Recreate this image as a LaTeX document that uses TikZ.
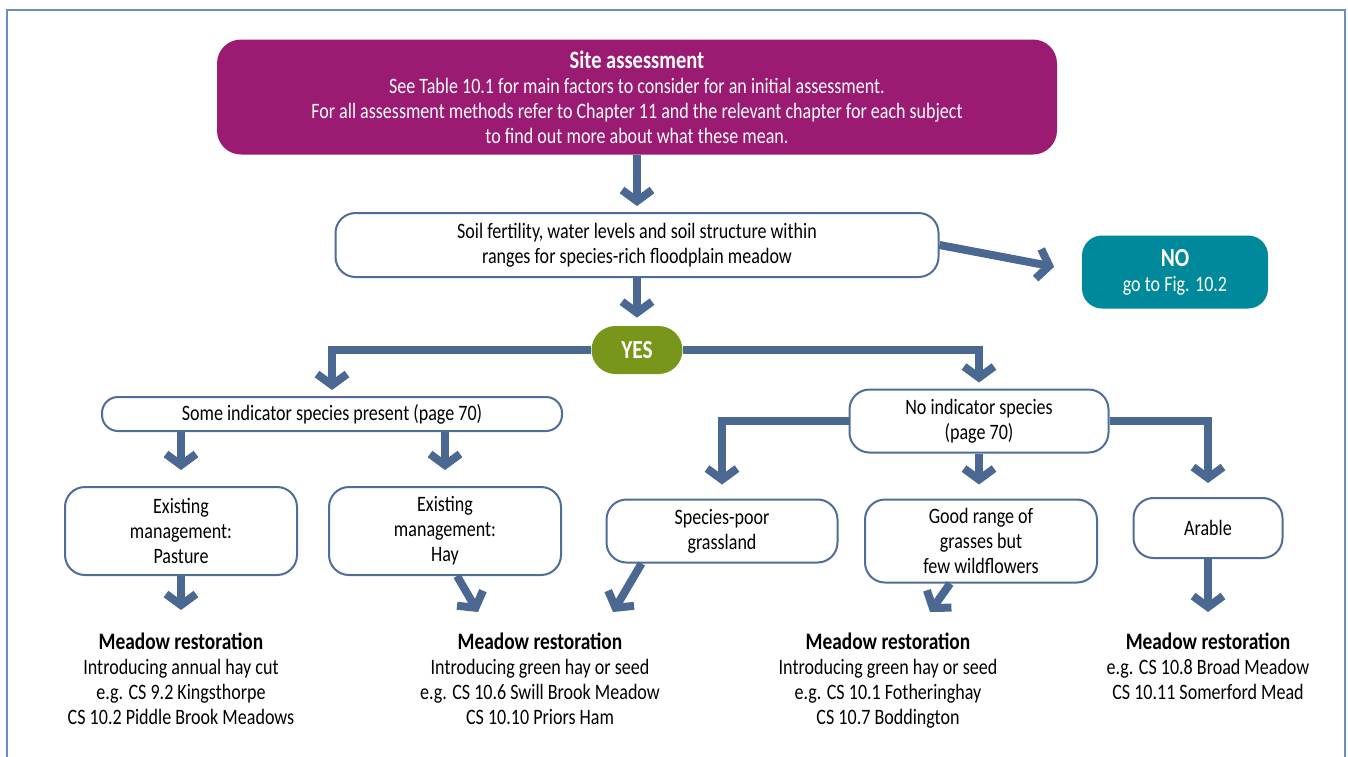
\documentclass[tikz,border=0pt]{standalone}
\usepackage{fontspec}
\setmainfont{Carlito}[FakeStretch=0.82]
\usetikzlibrary{arrows.meta, positioning}
\definecolor{sitepurple}{RGB}{155,27,115}
\definecolor{noteal}{RGB}{0,137,155}
\definecolor{yesgreen}{RGB}{119,150,26}
\definecolor{flowblue}{RGB}{74,104,145}
\definecolor{edgeblue}{RGB}{79,109,150}
\definecolor{frameblue}{RGB}{110,140,190}
\newcommand{\resthead}{\fontsize{11.8}{12.5}\selectfont\bfseries}
\tikzset{
    flowbox/.style={rectangle, draw=edgeblue, fill=white, rounded corners=10pt, line width=1pt, align=center, inner sep=2pt, font=\fontsize{11}{12.5}\selectfont},
    colbox/.style={rectangle, fill=#1, text=white, rounded corners=12pt, align=center, inner sep=2pt, font=\fontsize{11}{12.5}\selectfont},
    flowarrow/.style={-{Straight Barb[length=5.5pt, width=15pt, sharp]}, line width=4pt, draw=flowblue, line join=miter, shorten >=3pt},
    resttext/.style={align=center, inner sep=0pt, font=\fontsize{11}{12.5}\selectfont}
}

\begin{document}
\begin{tikzpicture}[x=0.5pt, y=-0.5pt]
\useasboundingbox (0,0) rectangle (1348,756);
\draw[frameblue, line width=0.8pt] (7,770) -- (7,10) -- (1345,10) -- (1345,770);

% top of the chart
\node[colbox=sitepurple, minimum width=420pt, minimum height=57.5pt] (site) at (637,97)
    {{\fontsize{12.5}{14}\selectfont\bfseries Site assessment}\\See Table 10.1 for main factors to consider for an initial assessment.\\For all assessment methods refer to Chapter 11 and the relevant chapter for each subject\\to find out more about what these mean.};
\node[flowbox, minimum width=301.5pt, minimum height=32pt] (soil) at (637,245)
    {Soil fertility, water levels and soil structure within\\ranges for species-rich floodplain meadow};
\node[colbox=noteal, rounded corners=10pt, minimum width=93pt, minimum height=36.5pt] (no) at (1175,272)
    {{\fontsize{13}{14}\selectfont\bfseries NO}\\go to Fig. 10.2};
\node[colbox=yesgreen, minimum width=45.5pt, minimum height=24pt, font=\fontsize{13}{14}\selectfont\bfseries] (yes) at (637,350) {YES};

% indicator species
\node[flowbox, rounded corners=8pt, minimum width=230pt, minimum height=17pt] (some) at (332,414)
    {Some indicator species present (page 70)};
\node[flowbox, minimum width=129.5pt, minimum height=31.5pt] (noind) at (979,421)
    {No indicator species\\(page 70)};

% situations
\node[flowbox, minimum width=116pt, minimum height=44pt] (pasture) at (181,531) {Existing\\management:\\Pasture};
\node[flowbox, minimum width=116pt, minimum height=44pt] (hay) at (445,531) {Existing\\management:\\Hay};
\node[flowbox, minimum width=115.5pt, minimum height=31.5pt] (spoor) at (722,531) {Species-poor\\grassland};
\node[flowbox, minimum width=116pt, minimum height=41.5pt] (goodrange) at (981,541) {Good range of\\grasses but\\few wildflowers};
\node[flowbox, minimum width=74.5pt, minimum height=30pt] (arable) at (1208,528) {Arable};

% restoration
\node[resttext, anchor=north] (rest1) at (181,632) {{\resthead Meadow restoration}\\Introducing annual hay cut\\e.g. CS 9.2 Kingsthorpe\\CS 10.2 Piddle Brook Meadows};
\node[resttext, anchor=north] (rest2) at (540,632) {{\resthead Meadow restoration}\\Introducing green hay or seed\\e.g. CS 10.6 Swill Brook Meadow\\CS 10.10 Priors Ham};
\node[resttext, anchor=north] (rest3) at (888,632) {{\resthead Meadow restoration}\\Introducing green hay or seed\\e.g. CS 10.1 Fotheringhay\\CS 10.7 Boddington};
\node[resttext, anchor=north] (rest4) at (1208,632) {{\resthead Meadow restoration}\\e.g. CS 10.8 Broad Meadow\\CS 10.11 Somerford Mead};

\coordinate (tiphay) at (478,612);
\coordinate (tippoor) at (613,612);
\coordinate (tipgood) at (930,612);

\draw[flowarrow] (site) -- (soil);
\draw[flowarrow, shorten >=14pt] (soil.east) -- (no.west);
\draw[flowarrow, shorten >=4pt] (soil) -- (yes);
\draw[flowarrow] (yes.west) -| (some);
\draw[flowarrow] (yes.east) -| (noind);
\draw[flowarrow, shorten >=8pt] (some.south -| pasture) -- (pasture);
\draw[flowarrow, shorten >=8pt] (some.south -| hay) -- (hay);
\draw[flowarrow, shorten >=7pt] (noind.west) -| (spoor);
\draw[flowarrow, shorten >=7pt] (noind) -- (noind |- goodrange.north);
\draw[flowarrow, shorten >=7pt] (noind.east) -| (arable);
\draw[flowarrow, shorten >=11pt] (pasture) -- (rest1);
\draw[flowarrow, shorten >=0pt] (hay.285) -- (tiphay);
\draw[flowarrow, shorten >=0pt] (spoor.202) -- (tippoor);
\draw[flowarrow, shorten >=0pt] (goodrange.234) -- (tipgood);
\draw[flowarrow, shorten >=10pt] (arable) -- (rest4);

\end{tikzpicture}
\end{document}
